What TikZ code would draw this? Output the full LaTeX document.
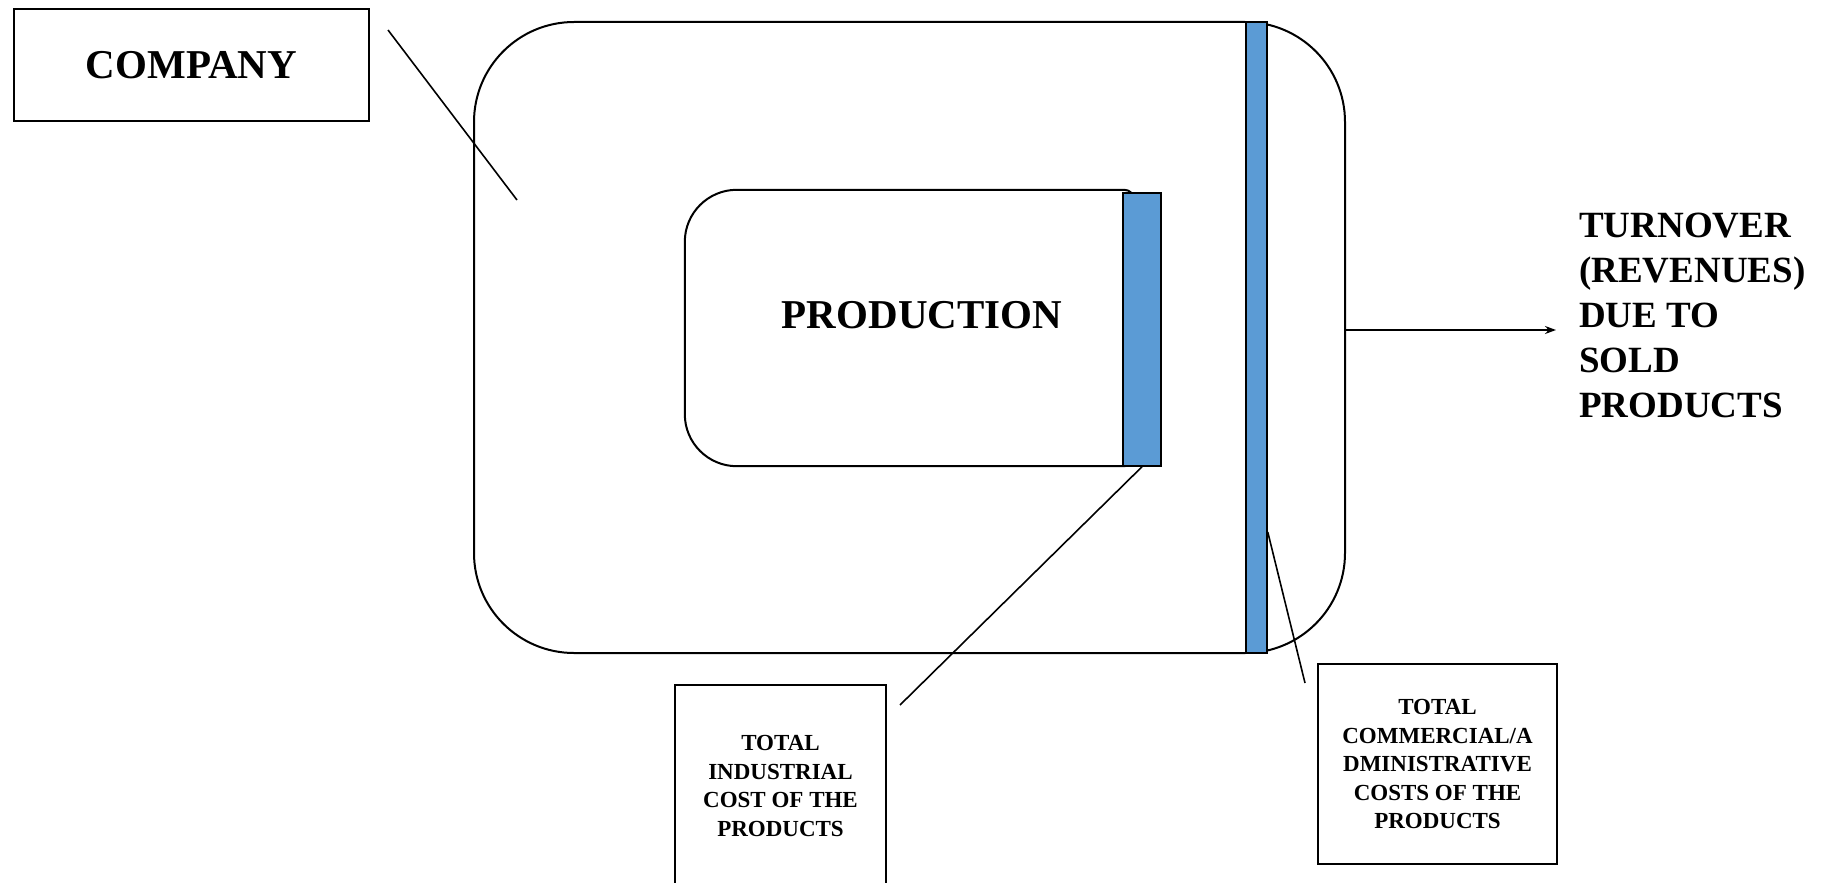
\documentclass[tikz,border=0pt]{standalone}
\usepackage{fontspec}
\setmainfont{Liberation Serif}
\usetikzlibrary{arrows.meta}
\definecolor{barblue}{HTML}{5B9BD5}
\begin{document}
\begin{tikzpicture}[x=1pt,y=1pt,
  outline/.style={draw=black,line width=2pt},
  bar/.style={draw=black,line width=1.5pt,fill=barblue,inner sep=0pt},
  bigtext/.style={font=\fontsize{41}{49}\selectfont\bfseries},
  smalltext/.style={font=\fontsize{23}{28.5}\selectfont\bfseries,align=center},
  leader/.style={draw=black,line width=1.6pt}]
\useasboundingbox (0,0) rectangle (1823,-883);
\fill[white] (0,0) rectangle (1823,-883);

% label box
\node[outline,bigtext,minimum width=355,minimum height=112,inner sep=0pt] (lbl) at (191.5,-65) {COMPANY};

% company outline
\node[outline,rounded corners=100pt,minimum width=871,minimum height=631,inner sep=0pt] (comp) at (909.5,-337.5) {};

% production block: large rounding on the left, small on the right
\node[minimum width=449,minimum height=276,inner sep=0pt] (prod) at (909.5,-328) {};
\draw[outline] ([yshift=-10pt]prod.north east)
  arc[start angle=0,end angle=90,radius=10pt]
  -- ([xshift=52pt]prod.north west)
  arc[start angle=90,end angle=180,radius=52pt]
  -- ([yshift=52pt]prod.south west)
  arc[start angle=180,end angle=270,radius=52pt]
  -- ([xshift=-10pt]prod.south east)
  arc[start angle=270,end angle=360,radius=10pt] -- cycle;
\node[bigtext] (prodtxt) at (922,-315) {PRODUCTION};

% cost bars
\node[bar,minimum width=38,minimum height=273] (pbar) at (1142,-329.5) {};
\node[bar,minimum width=21,minimum height=631] (cbar) at (1256.5,-337.5) {};

% cost boxes
\node[outline,smalltext,minimum width=211,minimum height=202,inner sep=0pt] (ind) at (780.5,-786)
  {TOTAL\\INDUSTRIAL\\COST OF THE\\PRODUCTS};
\node[outline,smalltext,minimum width=239,minimum height=200,inner sep=0pt] (adm) at (1437.5,-764)
  {TOTAL\\COMMERCIAL/A\\DMINISTRATIVE\\COSTS OF THE\\PRODUCTS};

% revenues
\node[anchor=north west,inner sep=0pt,align=left,font=\fontsize{37}{45}\selectfont\bfseries] (turn) at (1579,-213)
  {TURNOVER\\(REVENUES)\\DUE TO\\SOLD\\PRODUCTS};

% leader lines
\coordinate (lblend) at (388,-30);
\coordinate (compend) at (517,-200);
\coordinate (indend) at (900,-705);
\coordinate (admstart) at (cbar.east |- 0,-532);
\coordinate (admend) at (1305,-683);
\coordinate (arrowend) at (1556,-330);
\draw[leader] (lblend) -- (compend);
\draw[leader] (pbar.south) -- (indend);
\draw[leader] (admstart) -- (admend);
\draw[leader,-{Stealth[length=11pt,width=8pt]}] (comp.east |- arrowend) -- (arrowend);
\end{tikzpicture}
\end{document}
